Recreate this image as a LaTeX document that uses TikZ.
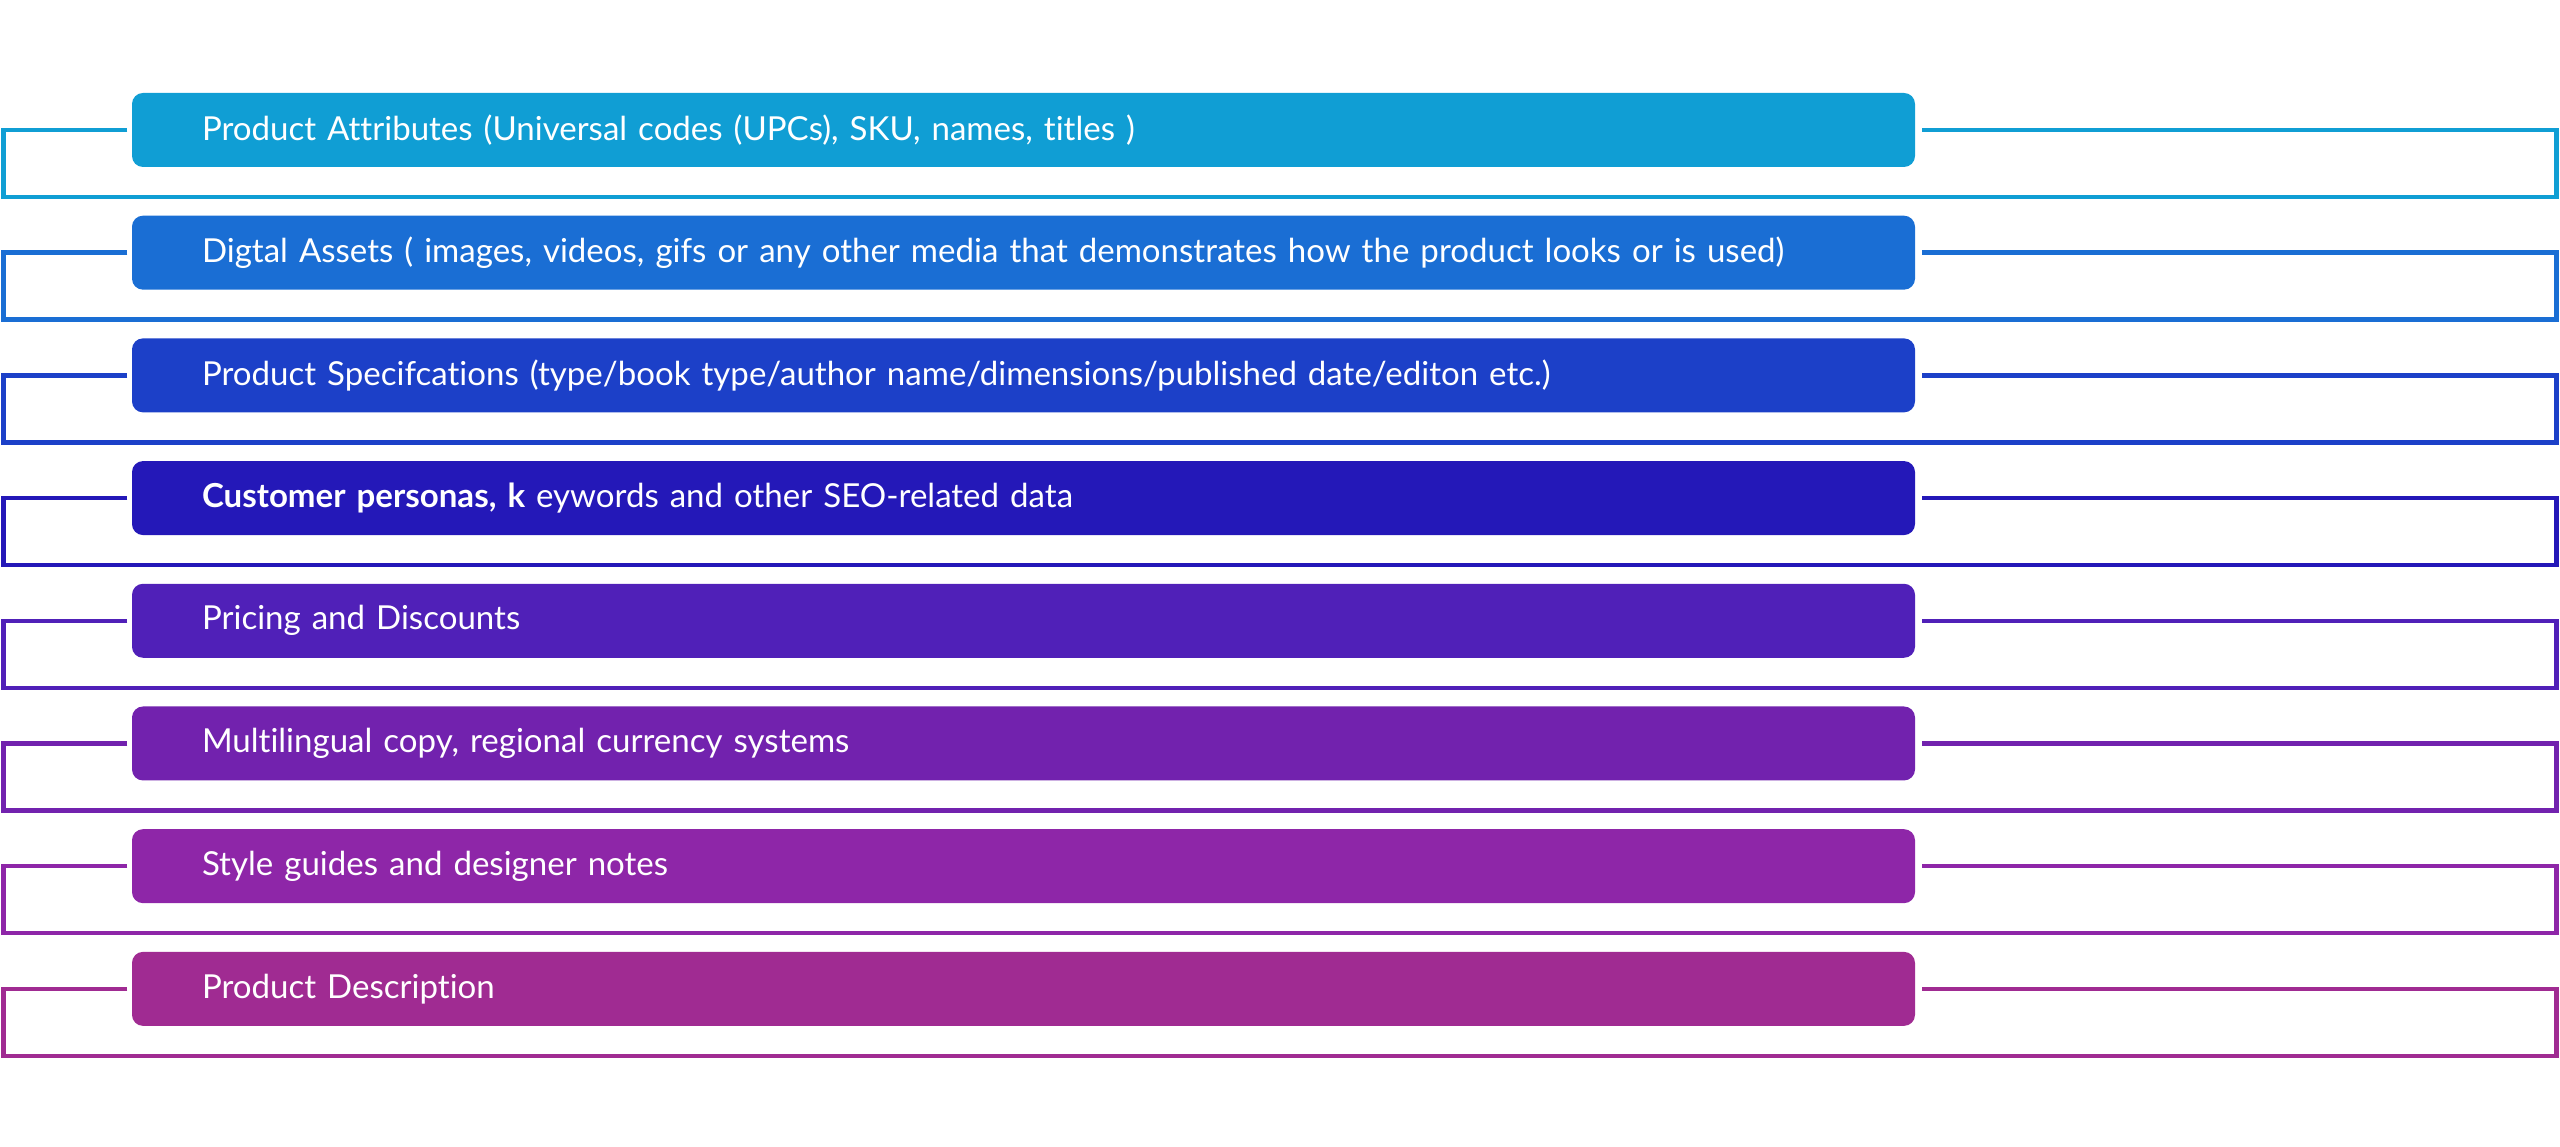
\documentclass[tikz,border=0pt]{standalone}
\usepackage{fontspec}
\setmainfont{Lato}[Ligatures={NoCommon}]
\usepackage{xcolor}
\usetikzlibrary{calc,positioning}

\definecolor{rowA}{HTML}{109ED4}
\definecolor{rowB}{HTML}{1A6ED4}
\definecolor{rowC}{HTML}{1C40C8}
\definecolor{rowD}{HTML}{2418B8}
\definecolor{rowE}{HTML}{5020B8}
\definecolor{rowF}{HTML}{7222AE}
\definecolor{rowG}{HTML}{8E26A8}
\definecolor{rowH}{HTML}{A02B92}

\tikzset{
    itembox/.style={draw=none, fill=#1, rounded corners=0.11cm, text=white,
        minimum width=17.83cm, minimum height=0.74cm, inner xsep=0.70cm,
        inner ysep=0pt, text width=16.43cm, align=left,
        font=\fontsize{9.4}{11}\selectfont},
    bracket/.style={draw=#1, line width=0.045cm}
}

\begin{document}
\begin{tikzpicture}
    \useasboundingbox (0, 0) rectangle (25.6, 11.47);

    \node[itembox=rowA] (attr) at (10.235, 10.170) {Product Attributes (Universal codes (UPCs), SKU, names, titles )};
    \node[itembox=rowB] (assets) at (10.235, 8.943) {Digtal Assets ( images, videos, gifs or any other media that demonstrates how the product looks or is used)};
    \node[itembox=rowC] (specs) at (10.235, 7.716) {Product Specifcations (type/book type/author name/dimensions/published date/editon etc.)};
    \node[itembox=rowD] (seo) at (10.235, 6.489) {\textbf{Customer personas, k} eywords and other SEO-related data};
    \node[itembox=rowE] (price) at (10.235, 5.262) {Pricing and Discounts};
    \node[itembox=rowF] (lang) at (10.235, 4.035) {Multilingual copy, regional currency systems};
    \node[itembox=rowG] (style) at (10.235, 2.808) {Style guides and designer notes};
    \node[itembox=rowH] (desc) at (10.235, 1.581) {Product Description};

    % outer edges of the frames
    \coordinate (leftedge) at (0.035, 0);
    \coordinate (rightedge) at (25.565, 0);

    % corners of the frames below each box
    \coordinate (attrL) at ($(leftedge |- attr.center) + (0, -0.67)$);
    \coordinate (attrR) at ($(rightedge |- attr.center) + (0, -0.67)$);
    \coordinate (assetsL) at ($(leftedge |- assets.center) + (0, -0.67)$);
    \coordinate (assetsR) at ($(rightedge |- assets.center) + (0, -0.67)$);
    \coordinate (specsL) at ($(leftedge |- specs.center) + (0, -0.67)$);
    \coordinate (specsR) at ($(rightedge |- specs.center) + (0, -0.67)$);
    \coordinate (seoL) at ($(leftedge |- seo.center) + (0, -0.67)$);
    \coordinate (seoR) at ($(rightedge |- seo.center) + (0, -0.67)$);
    \coordinate (priceL) at ($(leftedge |- price.center) + (0, -0.67)$);
    \coordinate (priceR) at ($(rightedge |- price.center) + (0, -0.67)$);
    \coordinate (langL) at ($(leftedge |- lang.center) + (0, -0.67)$);
    \coordinate (langR) at ($(rightedge |- lang.center) + (0, -0.67)$);
    \coordinate (styleL) at ($(leftedge |- style.center) + (0, -0.67)$);
    \coordinate (styleR) at ($(rightedge |- style.center) + (0, -0.67)$);
    \coordinate (descL) at ($(leftedge |- desc.center) + (0, -0.67)$);
    \coordinate (descR) at ($(rightedge |- desc.center) + (0, -0.67)$);

    \draw[bracket=rowA] ([xshift=-0.04cm]attr.west) -| (attrL) -- (attrR) |- ([xshift=0.06cm]attr.east);
    \draw[bracket=rowB] ([xshift=-0.04cm]assets.west) -| (assetsL) -- (assetsR) |- ([xshift=0.06cm]assets.east);
    \draw[bracket=rowC] ([xshift=-0.04cm]specs.west) -| (specsL) -- (specsR) |- ([xshift=0.06cm]specs.east);
    \draw[bracket=rowD] ([xshift=-0.04cm]seo.west) -| (seoL) -- (seoR) |- ([xshift=0.06cm]seo.east);
    \draw[bracket=rowE] ([xshift=-0.04cm]price.west) -| (priceL) -- (priceR) |- ([xshift=0.06cm]price.east);
    \draw[bracket=rowF] ([xshift=-0.04cm]lang.west) -| (langL) -- (langR) |- ([xshift=0.06cm]lang.east);
    \draw[bracket=rowG] ([xshift=-0.04cm]style.west) -| (styleL) -- (styleR) |- ([xshift=0.06cm]style.east);
    \draw[bracket=rowH] ([xshift=-0.04cm]desc.west) -| (descL) -- (descR) |- ([xshift=0.06cm]desc.east);
\end{tikzpicture}
\end{document}
